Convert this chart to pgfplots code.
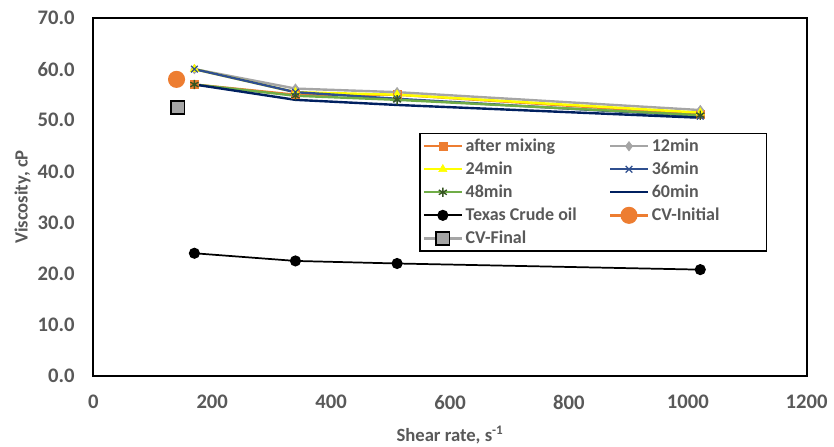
\documentclass[border=0pt]{standalone}
\usepackage{pgfplots}
\pgfplotsset{compat=1.18}
\usepackage{fontspec}
\setmainfont{Carlito}
\definecolor{txt}{HTML}{595959}
\definecolor{cOr}{HTML}{ED7D31}
\definecolor{cGr}{HTML}{A5A5A5}
\definecolor{cYe}{HTML}{FFFF00}
\definecolor{cBl}{HTML}{2F4F8F}
\definecolor{cGn}{HTML}{70AD47}
\definecolor{cGnD}{HTML}{375623}
\definecolor{cNv}{HTML}{002060}
\begin{document}
\begin{tikzpicture}
\useasboundingbox (-70pt,-52.5pt) rectangle (555.5pt,282pt);
\begin{axis}[
  at={(0,0)}, anchor=south west,
  scale only axis, width=535pt, height=268.5pt,
  xmin=0, xmax=1200, ymin=0, ymax=70,
  xtick={0,200,...,1200}, ytick={0,10,...,70},
  major tick length=0pt,
  axis line style={line width=1.5pt, black},
  tick label style={font=\fontsize{15.5}{17}\selectfont\bfseries, text=txt},
  xticklabel style={yshift=-11pt},
  yticklabel style={xshift=-10.5pt},
  /pgf/number format/assume math mode=true,
  yticklabel={\pgfmathprintnumber[fixed,fixed zerofill,precision=1]{\tick}},
  xticklabel={\pgfmathprintnumber[fixed,1000 sep={}]{\tick}},
  xlabel={Shear rate, s\textsuperscript{-1}},
  ylabel={Viscosity, cP},
  label style={font=\fontsize{14}{16}\selectfont\bfseries, text=txt},
  xlabel style={at={([yshift=-44pt]axis description cs:0.5,0)}, anchor=center},
  ylabel style={at={([xshift=-53pt]axis description cs:0,0.5)}, anchor=center},
  legend columns=2,
  legend style={at={(rel axis cs:0.457,0.679)}, anchor=north west,
    draw=black, line width=1pt, font=\fontsize{13.5}{15}\selectfont\bfseries, text=txt,
    inner sep=2pt, row sep=2.3pt,
    /tikz/every even column/.append style={column sep=22pt}},
  legend cell align=left,
  legend image code/.code={
    \draw[mark repeat=2,mark phase=2] plot coordinates {(0cm,0cm) (0.5cm,0cm) (1cm,0cm)};},
]
\addplot[cOr, line width=1.8pt, mark=square*, mark size=3pt, mark options={solid, fill=cOr, line width=0.5pt}] coordinates {(170,57.0) (340,55.0) (511,55.0) (1021,51.2)};
\addlegendentry{after mixing}
\addplot[cGr, line width=1.8pt, mark=diamond*, mark size=3.5pt, mark options={solid, fill=cGr, line width=0.5pt}] coordinates {(170,60.0) (340,56.2) (511,55.5) (1021,52.0)};
\addlegendentry{\makebox[82pt][l]{12min}}
\addplot[cYe, line width=1.8pt, mark=triangle*, mark size=3.5pt, mark options={solid, fill=cYe, line width=0.5pt}] coordinates {(170,60.0) (340,55.5) (511,55.0) (1021,51.5)};
\addlegendentry{24min}
\addplot[cBl, line width=1.8pt, mark=x, mark size=3.5pt, mark options={solid, line width=1pt}] coordinates {(170,60.0) (340,55.5) (511,54.2) (1021,50.8)};
\addlegendentry{\makebox[82pt][l]{36min}}
\addplot[cGn, line width=1.8pt, mark=asterisk, mark size=3.5pt, mark options={solid, draw=cGnD, line width=1pt}] coordinates {(170,57.0) (340,54.8) (511,54.0) (1021,51.0)};
\addlegendentry{48min}
\addplot[cNv, line width=1.8pt] coordinates {(170,57.0) (340,54.0) (511,53.0) (1021,50.5)};
\addlegendentry{\makebox[82pt][l]{60min}}
\addplot[black, line width=1.3pt, mark=*, mark size=3.5pt, mark options={solid, fill=black}] coordinates {(170,24.0) (340,22.5) (511,22.0) (1021,20.8)};
\addlegendentry{Texas Crude oil}
\addplot[cOr, line width=1.8pt, mark=*, mark size=5.5pt, mark options={solid, fill=cOr, draw=cOr}] coordinates {(140,58.0)};
\addlegendentry{\makebox[82pt][l]{CV-Initial}}
\addplot[cGr, line width=1.8pt, mark=square*, mark size=5pt, mark options={solid, fill=cGr, draw=black, line width=1.2pt}] coordinates {(142,52.5)};
\addlegendentry{CV-Final}
\end{axis}
\end{tikzpicture}
\end{document}
